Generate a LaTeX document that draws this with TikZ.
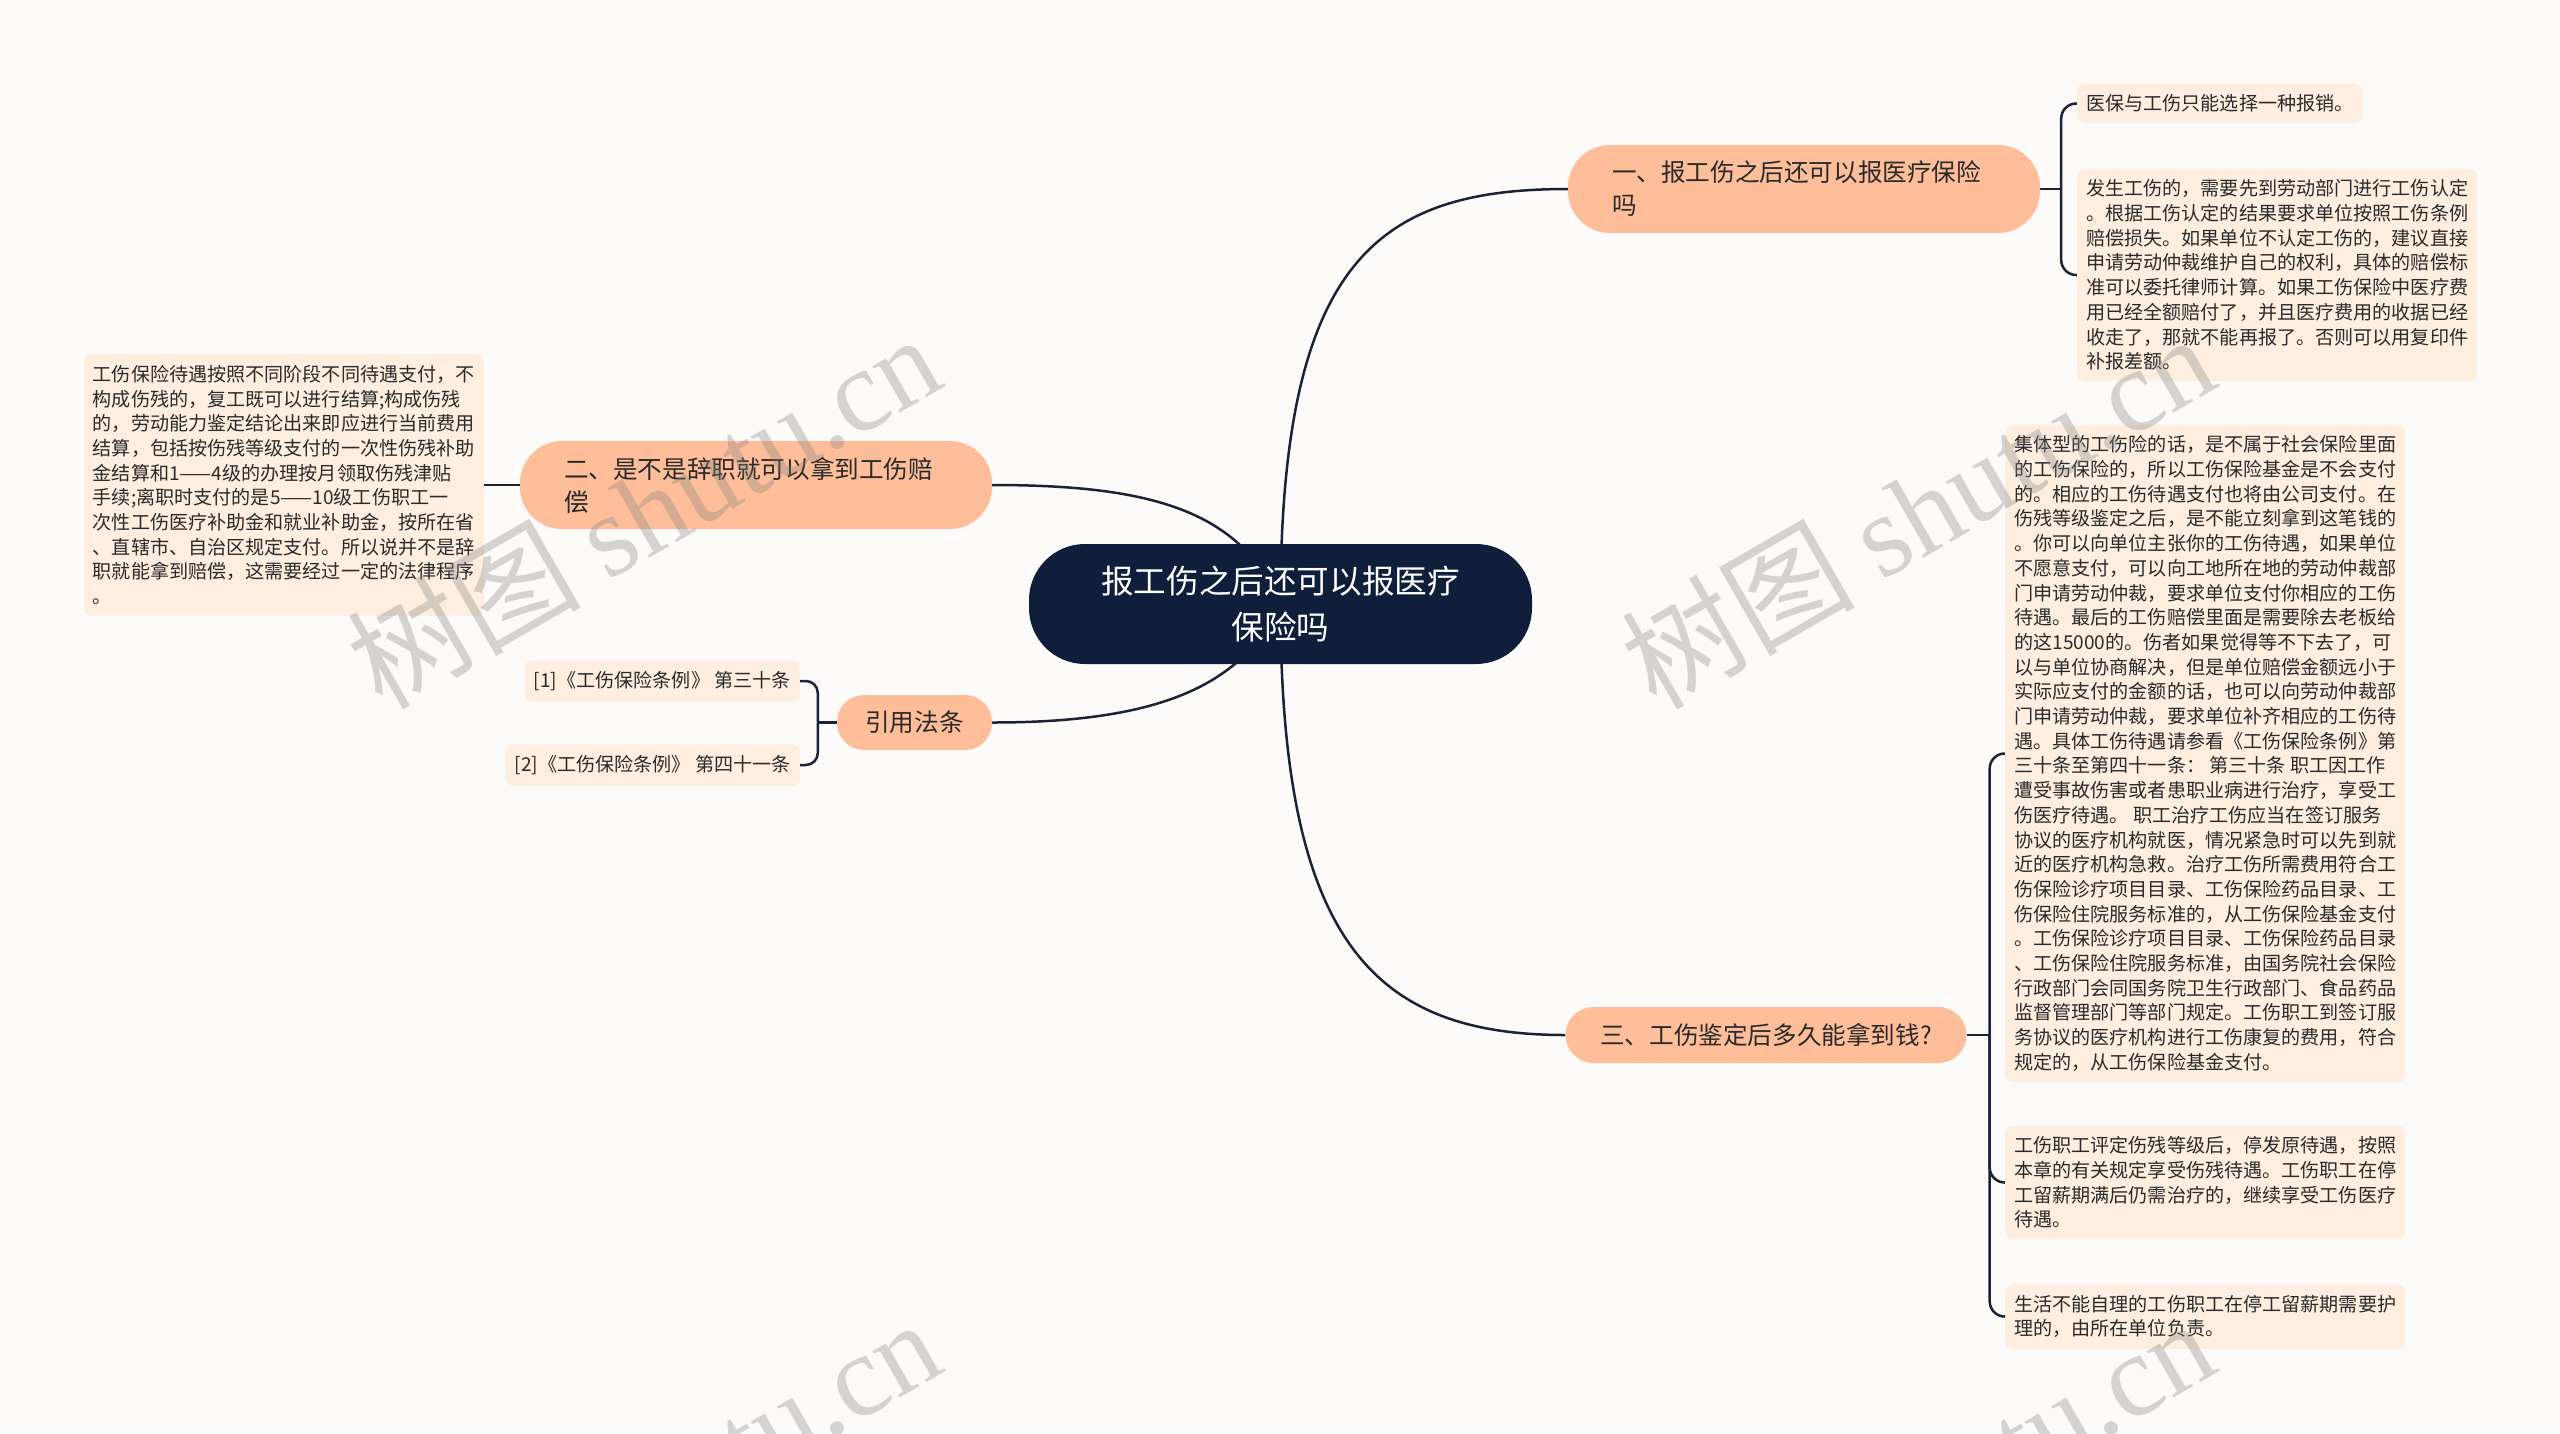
\documentclass[tikz,border=0pt]{standalone}
\usepackage{fontspec}
\setmainfont{Noto Sans CJK SC}
\newfontfamily\wmlatin{Liberation Serif}
\usetikzlibrary{calc}
\definecolor{bgc}{HTML}{FDFBF9}
\definecolor{rootc}{HTML}{0F1F3B}
\definecolor{branchc}{HTML}{FDBE99}
\definecolor{leafc}{HTML}{FDEEDF}
\definecolor{linec}{HTML}{1A2336}
\definecolor{textc}{HTML}{2A2A2A}
\pgfdeclarelayer{bg}\pgfdeclarelayer{lines}\pgfdeclarelayer{wm}
\pgfsetlayers{bg,lines,main,wm}
\begin{document}
\begin{tikzpicture}[x=1pt,y=-1pt,
 rootbox/.style={fill=rootc, text=white, rounded corners=56pt, minimum width=503pt, minimum height=120pt, align=center, font=\fontsize{32.6pt}{46pt}\selectfont, inner sep=0pt},
 branchbox/.style={fill=branchc, text=textc, inner ysep=0pt, font=\fontsize{24.6pt}{33pt}\selectfont},
 leafbox/.style={fill=leafc, text=textc, rounded corners=8pt, inner xsep=9pt, inner ysep=11pt, align=left, font=\fontsize{19.1pt}{24.7pt}\selectfont},
 conn/.style={draw=linec, line width=2.5pt},
 wmtext/.style={text=gray, text opacity=0.32, rotate=30, font=\fontsize{117pt}{117pt}\selectfont}
]
\useasboundingbox (0,0) rectangle (2560,1433);
\begin{pgfonlayer}{bg}
\fill[bgc] (0,0) rectangle (2560,1433);
\end{pgfonlayer}

% root and branches
\node[rootbox] (root) at (1280.5,604) {报工伤之后还可以报医疗\\保险吗};
\node[branchbox, rounded corners=42pt, minimum height=88pt, text width=384pt, inner xsep=44pt, align=left] (b1) at (1804,189) {一、报工伤之后还可以报医疗保险\\吗};
\node[branchbox, rounded corners=42pt, minimum height=88pt, text width=384pt, inner xsep=44pt, align=left] (b2) at (756,485) {二、是不是辞职就可以拿到工伤赔\\偿};
\node[branchbox, rounded corners=28pt, minimum height=56pt, minimum width=401pt, inner xsep=20pt] (b3) at (1766,1035) {三、工伤鉴定后多久能拿到钱?};
\node[branchbox, rounded corners=27pt, minimum height=55pt, minimum width=155pt] (b4) at (914.5,722.5) {引用法条};

% leaves
\node[leafbox, anchor=west] (l1a) at (2077,103.5) {医保与工伤只能选择一种报销。};
\node[leafbox, anchor=west] (l1b) at (2077,275) {发生工伤的，需要先到劳动部门进行工伤认定\\
。根据工伤认定的结果要求单位按照工伤条例\\
赔偿损失。如果单位不认定工伤的，建议直接\\
申请劳动仲裁维护自己的权利，具体的赔偿标\\
准可以委托律师计算。如果工伤保险中医疗费\\
用已经全额赔付了，并且医疗费用的收据已经\\
收走了，那就不能再报了。否则可以用复印件\\
补报差额。};
\node[leafbox, anchor=east] (l2) at (484,485) {工伤保险待遇按照不同阶段不同待遇支付，不\\
构成伤残的，复工既可以进行结算;构成伤残\\
的，劳动能力鉴定结论出来即应进行当前费用\\
结算，包括按伤残等级支付的一次性伤残补助\\
金结算和1——4级的办理按月领取伤残津贴\\
手续;离职时支付的是5——10级工伤职工一\\
次性工伤医疗补助金和就业补助金，按所在省\\
、直辖市、自治区规定支付。所以说并不是辞\\
职就能拿到赔偿，这需要经过一定的法律程序\\
。};
\node[leafbox, anchor=east] (c1) at (800,681) {[1]《工伤保险条例》 第三十条};
\node[leafbox, anchor=east] (c2) at (800,765) {[2]《工伤保险条例》 第四十一条};
\node[leafbox, anchor=west] (l3a) at (2005,753.5) {集体型的工伤险的话，是不属于社会保险里面\\
的工伤保险的，所以工伤保险基金是不会支付\\
的。相应的工伤待遇支付也将由公司支付。在\\
伤残等级鉴定之后，是不能立刻拿到这笔钱的\\
。你可以向单位主张你的工伤待遇，如果单位\\
不愿意支付，可以向工地所在地的劳动仲裁部\\
门申请劳动仲裁，要求单位支付你相应的工伤\\
待遇。最后的工伤赔偿里面是需要除去老板给\\
的这15000的。伤者如果觉得等不下去了，可\\
以与单位协商解决，但是单位赔偿金额远小于\\
实际应支付的金额的话，也可以向劳动仲裁部\\
门申请劳动仲裁，要求单位补齐相应的工伤待\\
遇。具体工伤待遇请参看《工伤保险条例》第\\
三十条至第四十一条： 第三十条 职工因工作\\
遭受事故伤害或者患职业病进行治疗，享受工\\
伤医疗待遇。 职工治疗工伤应当在签订服务\\
协议的医疗机构就医，情况紧急时可以先到就\\
近的医疗机构急救。治疗工伤所需费用符合工\\
伤保险诊疗项目目录、工伤保险药品目录、工\\
伤保险住院服务标准的，从工伤保险基金支付\\
。工伤保险诊疗项目目录、工伤保险药品目录\\
、工伤保险住院服务标准，由国务院社会保险\\
行政部门会同国务院卫生行政部门、食品药品\\
监督管理部门等部门规定。工伤职工到签订服\\
务协议的医疗机构进行工伤康复的费用，符合\\
规定的，从工伤保险基金支付。};
\node[leafbox, anchor=west] (l3b) at (2005,1182.5) {工伤职工评定伤残等级后，停发原待遇，按照\\
本章的有关规定享受伤残待遇。工伤职工在停\\
工留薪期满后仍需治疗的，继续享受工伤医疗\\
待遇。};
\node[leafbox, anchor=west] (l3c) at (2005,1316.5) {生活不能自理的工伤职工在停工留薪期需要护\\
理的，由所在单位负责。};

% connectors
\begin{pgfonlayer}{lines}
\draw[conn] (root.center) .. controls +(0,-344) and +(-190,0) .. (b1.west);
\draw[conn] (root.center) .. controls +(0,340) and +(-190,0) .. (b3.west);
\draw[conn] (root.center) .. controls +(-40,-94) and +(158,0) .. (b2.east);
\draw[conn] (root.center) .. controls +(-40,86) and +(158,0) .. (b4.east);
\draw[conn] (l2.east) -- (b2.west);
\coordinate (j1) at ($(b1.east)+(21,0)$);
\draw[conn] (b1.east) -- (j1);
\draw[conn, rounded corners=15pt] (j1) |- (l1a.west);
\draw[conn, rounded corners=15pt] (j1) |- (l1b.west);
\coordinate (j3) at ($(b3.east)+(23,0)$);
\draw[conn] (b3.east) -- (j3);
\draw[conn, rounded corners=15pt] (j3) |- (l3a.west);
\draw[conn, rounded corners=15pt] (j3) |- (l3b.west);
\draw[conn, rounded corners=15pt] (j3) |- (l3c.west);
\coordinate (jc) at ($(b4.west)+(-19,0)$);
\draw[conn] (b4.west) -- (jc);
\draw[conn, rounded corners=12pt] (jc) |- (c1.east);
\draw[conn, rounded corners=12pt] (jc) |- (c2.east);
\end{pgfonlayer}

% watermarks
\begin{pgfonlayer}{wm}
\begin{scope}
\clip (0,0) rectangle (2560,1433);
\node[wmtext] (wm1) at (643,510) {树图 {\wmlatin shutu.cn}};
\node[wmtext] (wm2) at (1917,510) {树图 {\wmlatin shutu.cn}};
\node[wmtext] (wm3) at (643,1495) {树图 {\wmlatin shutu.cn}};
\node[wmtext] (wm4) at (1917,1495) {树图 {\wmlatin shutu.cn}};
\end{scope}
\end{pgfonlayer}
\end{tikzpicture}
\end{document}
